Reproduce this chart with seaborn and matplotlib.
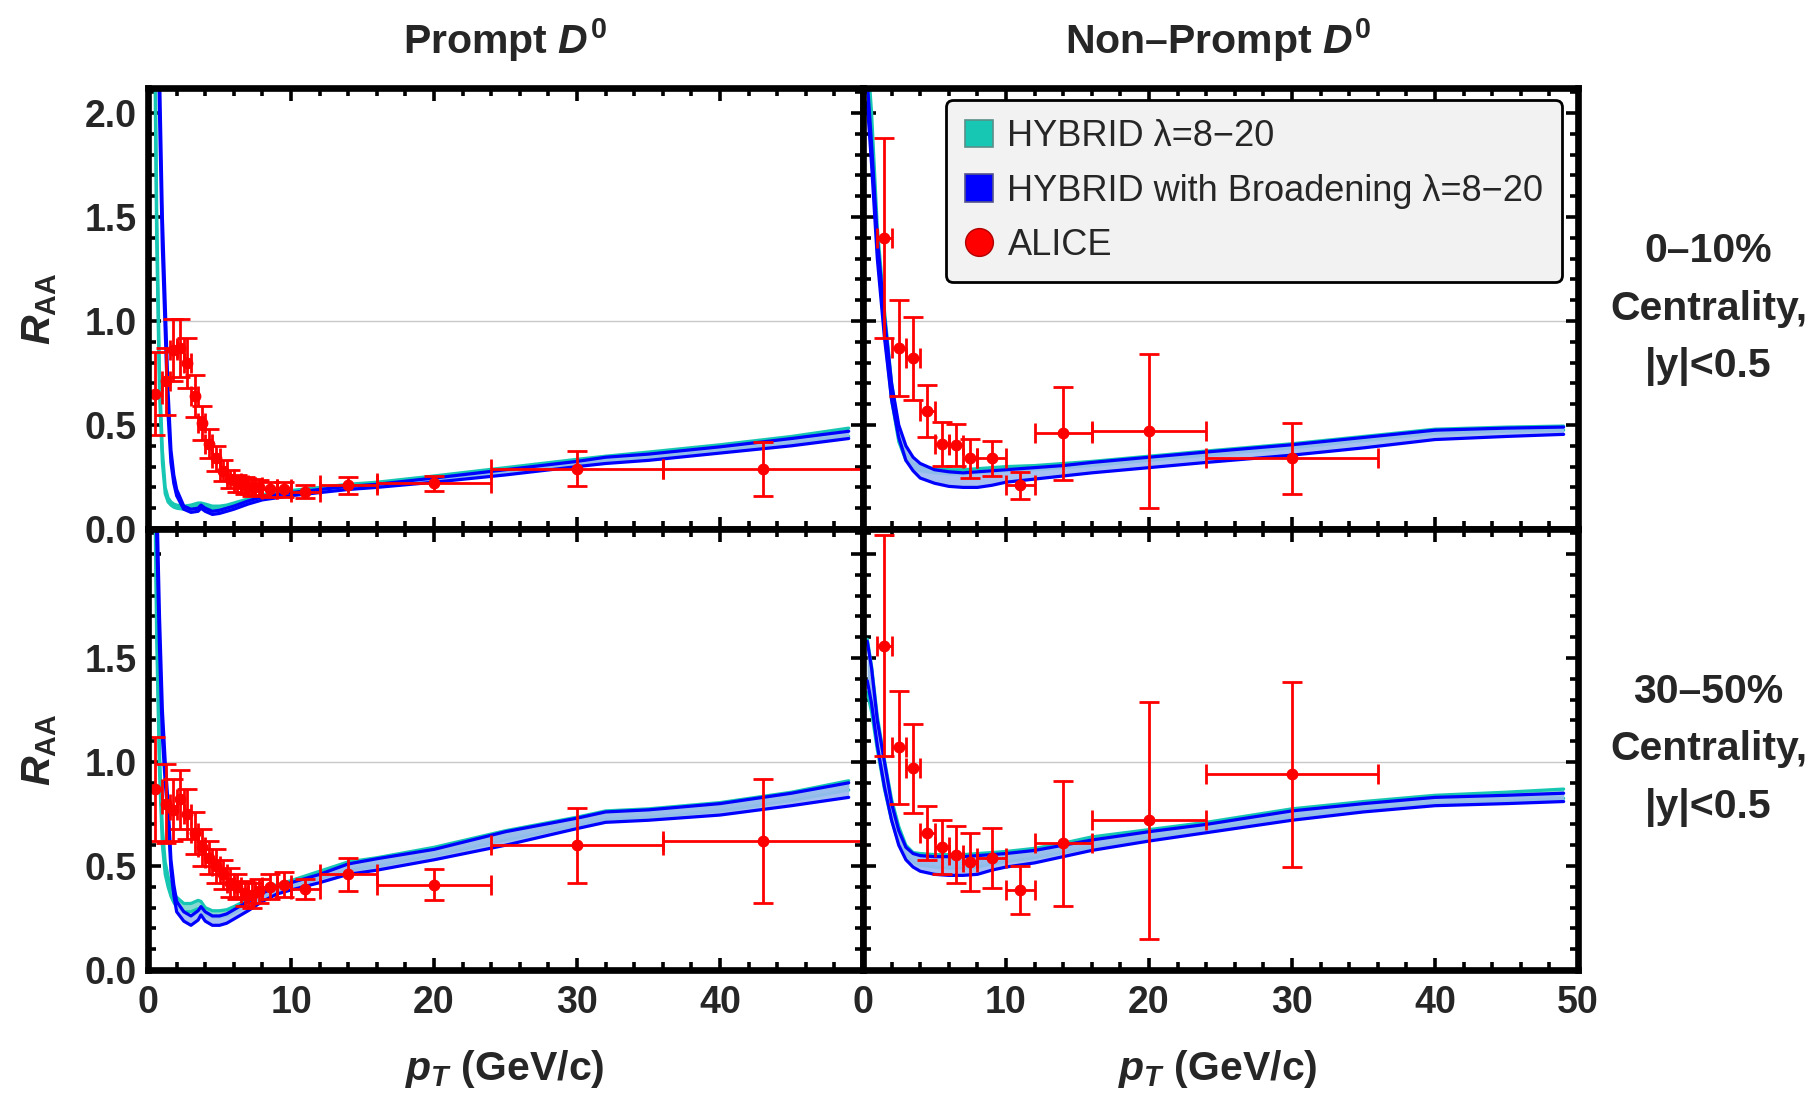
import numpy as np
import pandas as pd
import matplotlib
matplotlib.use("Agg")
import matplotlib.pyplot as plt
import seaborn as sns
from matplotlib.patches import Patch
from matplotlib.lines import Line2D
from matplotlib.ticker import MultipleLocator, FuncFormatter

# ---------------- theory bands: prompt D0 (left column) ----------------
pt_prompt = [0.5, 0.6, 0.8, 1.0, 1.2, 1.4, 1.6, 1.8, 2.0, 2.5, 3.0, 3.5, 3.7, 4.0, 4.5, 5.0,
             5.5, 6.0, 7.0, 8.0, 9.0, 10, 12, 14, 16, 20, 25, 30, 32, 35, 40, 45, 49]

tl_teal_hi = [2.3, 1.55, 0.75, 0.38, 0.20, 0.15, 0.13, 0.12, 0.115, 0.11, 0.115, 0.125, 0.125, 0.12, 0.11, 0.11,
              0.115, 0.125, 0.145, 0.165, 0.175, 0.185, 0.20, 0.215, 0.225, 0.255, 0.295, 0.335, 0.35, 0.37, 0.405, 0.445, 0.485]
tl_teal_lo = [2.1, 1.4, 0.65, 0.32, 0.17, 0.13, 0.115, 0.105, 0.10, 0.095, 0.10, 0.11, 0.11, 0.105, 0.095, 0.095,
              0.10, 0.11, 0.13, 0.15, 0.16, 0.17, 0.185, 0.20, 0.21, 0.235, 0.27, 0.31, 0.325, 0.34, 0.375, 0.41, 0.445]
tl_blue_hi = [4.2, 3.2, 2.2, 1.5, 1.08, 0.66, 0.38, 0.26, 0.19, 0.11, 0.095, 0.10, 0.115, 0.10, 0.085, 0.09,
              0.10, 0.11, 0.135, 0.155, 0.165, 0.175, 0.19, 0.205, 0.215, 0.245, 0.285, 0.325, 0.345, 0.36, 0.395, 0.435, 0.47]
tl_blue_lo = [4.0, 3.0, 2.0, 1.35, 0.95, 0.55, 0.32, 0.22, 0.16, 0.095, 0.08, 0.085, 0.10, 0.085, 0.07, 0.075,
              0.085, 0.095, 0.12, 0.14, 0.15, 0.16, 0.175, 0.19, 0.20, 0.225, 0.26, 0.30, 0.315, 0.33, 0.365, 0.40, 0.435]

bl_teal_hi = [2.3, 1.75, 1.05, 0.68, 0.52, 0.45, 0.40, 0.37, 0.35, 0.32, 0.32, 0.335, 0.33, 0.30, 0.285, 0.285,
              0.29, 0.305, 0.34, 0.38, 0.41, 0.43, 0.475, 0.52, 0.54, 0.59, 0.67, 0.735, 0.765, 0.775, 0.805, 0.855, 0.91]
bl_teal_lo = [2.15, 1.6, 0.95, 0.60, 0.46, 0.40, 0.355, 0.325, 0.305, 0.28, 0.28, 0.295, 0.29, 0.265, 0.255, 0.255,
              0.26, 0.275, 0.31, 0.35, 0.38, 0.40, 0.44, 0.48, 0.50, 0.55, 0.625, 0.695, 0.725, 0.735, 0.765, 0.815, 0.865]
bl_blue_hi = [2.8, 2.3, 1.7, 1.25, 1.0, 0.8, 0.53, 0.41, 0.33, 0.28, 0.26, 0.285, 0.305, 0.28, 0.26, 0.26,
              0.27, 0.29, 0.33, 0.37, 0.40, 0.42, 0.46, 0.51, 0.535, 0.58, 0.665, 0.73, 0.76, 0.77, 0.80, 0.85, 0.90]
bl_blue_lo = [2.6, 2.1, 1.55, 1.12, 0.9, 0.74, 0.48, 0.36, 0.28, 0.235, 0.215, 0.24, 0.265, 0.235, 0.215, 0.215,
              0.225, 0.245, 0.285, 0.33, 0.365, 0.385, 0.42, 0.46, 0.48, 0.53, 0.60, 0.68, 0.71, 0.72, 0.745, 0.79, 0.83]

# ---------------- theory bands: non-prompt D0 (right column) ----------------
pt_nonprompt = [0.3, 0.6, 1.0, 1.5, 2.0, 2.5, 3.0, 3.5, 4.0, 5.0, 6.0, 7.0, 8.0, 9.0, 10, 12, 14, 16,
                20, 24, 30, 35, 40, 45, 49]

tr_teal_hi = [2.3, 2.0, 1.45, 1.05, 0.70, 0.47, 0.36, 0.315, 0.30, 0.29, 0.285, 0.285, 0.29, 0.295, 0.30, 0.305,
              0.315, 0.325, 0.35, 0.375, 0.41, 0.445, 0.48, 0.49, 0.495]
tr_teal_lo = [2.2, 1.9, 1.35, 0.95, 0.62, 0.42, 0.33, 0.295, 0.28, 0.27, 0.265, 0.265, 0.27, 0.275, 0.28, 0.285,
              0.295, 0.305, 0.33, 0.355, 0.39, 0.425, 0.46, 0.47, 0.475]
tr_blue_hi = [2.15, 1.85, 1.4, 1.02, 0.70, 0.50, 0.40, 0.345, 0.315, 0.285, 0.275, 0.27, 0.275, 0.28, 0.285, 0.295,
              0.305, 0.32, 0.345, 0.37, 0.405, 0.44, 0.475, 0.485, 0.49]
tr_blue_lo = [2.05, 1.75, 1.3, 0.92, 0.62, 0.44, 0.33, 0.28, 0.245, 0.22, 0.205, 0.20, 0.20, 0.21, 0.225, 0.24,
              0.255, 0.27, 0.295, 0.32, 0.355, 0.39, 0.43, 0.445, 0.455]

br_teal_hi = [1.59, 1.46, 1.22, 1.01, 0.82, 0.69, 0.60, 0.565, 0.56, 0.555, 0.555, 0.555, 0.56, 0.565, 0.57, 0.585,
              0.61, 0.64, 0.675, 0.71, 0.775, 0.81, 0.84, 0.855, 0.87]
br_teal_lo = [1.335, 1.24, 1.06, 0.87, 0.72, 0.61, 0.55, 0.52, 0.505, 0.495, 0.49, 0.49, 0.495, 0.51, 0.52, 0.54,
              0.565, 0.59, 0.635, 0.675, 0.735, 0.77, 0.80, 0.81, 0.825]
br_blue_hi = [1.58, 1.45, 1.2, 1.0, 0.80, 0.67, 0.59, 0.56, 0.55, 0.545, 0.545, 0.545, 0.55, 0.555, 0.56, 0.575,
              0.60, 0.625, 0.665, 0.70, 0.765, 0.80, 0.83, 0.84, 0.85]
br_blue_lo = [1.39, 1.28, 1.08, 0.88, 0.72, 0.60, 0.53, 0.495, 0.475, 0.46, 0.455, 0.455, 0.46, 0.48, 0.495, 0.515,
              0.545, 0.575, 0.62, 0.66, 0.72, 0.76, 0.79, 0.80, 0.81]

# ---------------- ALICE data ----------------
alice_prompt_pt = [0.5, 1.25, 1.75, 2.25, 2.75, 3.25, 3.75, 4.25, 4.75, 5.25, 5.75, 6.25, 6.75, 7.25, 7.75,
                   8.5, 9.5, 11, 14, 20, 30, 43]
alice_prompt_xerr = [0.5, 0.25, 0.25, 0.25, 0.25, 0.25, 0.25, 0.25, 0.25, 0.25, 0.25, 0.25, 0.25, 0.25, 0.25,
                     0.5, 0.5, 1, 2, 4, 6, 7]
alice_prompt_010 = [0.65, 0.71, 0.86, 0.87, 0.80, 0.64, 0.51, 0.41, 0.34, 0.28, 0.24, 0.22, 0.21, 0.20, 0.20,
                    0.19, 0.19, 0.18, 0.21, 0.22, 0.29, 0.29]
alice_prompt_010_err = [0.20, 0.16, 0.15, 0.14, 0.12, 0.10, 0.08, 0.07, 0.06, 0.05, 0.045, 0.04, 0.04, 0.04, 0.035,
                        0.035, 0.035, 0.03, 0.04, 0.035, 0.085, 0.13]
alice_prompt_3050 = [0.87, 0.80, 0.77, 0.82, 0.75, 0.66, 0.59, 0.54, 0.50, 0.46, 0.42, 0.40, 0.37, 0.36, 0.38,
                     0.40, 0.41, 0.39, 0.46, 0.41, 0.60, 0.62]
alice_prompt_3050_err = [0.25, 0.19, 0.15, 0.14, 0.12, 0.10, 0.09, 0.08, 0.08, 0.07, 0.07, 0.06, 0.06, 0.06, 0.06,
                         0.06, 0.06, 0.05, 0.08, 0.075, 0.18, 0.30]

alice_np_pt = [1.5, 2.5, 3.5, 4.5, 5.5, 6.5, 7.5, 9, 11, 14, 20, 30]
alice_np_xerr = [0.5, 0.5, 0.5, 0.5, 0.5, 0.5, 0.5, 1, 1, 2, 4, 6]
alice_np_010 = [1.40, 0.87, 0.82, 0.565, 0.41, 0.405, 0.34, 0.34, 0.21, 0.46, 0.47, 0.34]
alice_np_010_err = [0.48, 0.23, 0.20, 0.125, 0.105, 0.10, 0.095, 0.085, 0.065, 0.225, 0.37, 0.17]
alice_np_3050 = [1.56, 1.07, 0.97, 0.66, 0.59, 0.555, 0.52, 0.54, 0.385, 0.61, 0.72, 0.94]
alice_np_3050_err = [0.53, 0.27, 0.215, 0.13, 0.13, 0.135, 0.14, 0.145, 0.115, 0.30, 0.57, 0.445]

col_titles = ["Prompt $D^0$", "Non–Prompt $D^0$"]
row_labels = ["0–10%\nCentrality,\n|y|<0.5", "30–50%\nCentrality,\n|y|<0.5"]
legend_labels = ["HYBRID λ=8−20", "HYBRID with Broadening λ=8−20", "ALICE"]

# ---------------- style ----------------
sns.set_theme(style="white")
plt.rcParams["font.family"] = ["Liberation Sans", "DejaVu Sans"]
plt.rcParams["mathtext.fontset"] = "custom"
plt.rcParams["mathtext.rm"] = "Liberation Sans:bold"
plt.rcParams["mathtext.bf"] = "Liberation Sans:bold"
plt.rcParams["mathtext.it"] = "Liberation Sans:italic:bold"

TEAL = "#17c6b3"
TEAL_FILL = "#86d9d0"
BLUE = "#0000ff"
BLUE_FILL = "#9dbbf0"

fig = plt.figure(figsize=(18.1, 10.93), dpi=100)
gs = fig.add_gridspec(2, 2, left=0.0818, right=0.8718, top=0.9195, bottom=0.1125,
                      wspace=0, hspace=0)


def draw_panel(ax, pt, teal_lo, teal_hi, blue_lo, blue_hi, d_pt, d_xerr, d_y, d_yerr):
    ax.axhline(1.0, color="#c8c8c8", lw=1.0, zorder=0)
    ax.fill_between(pt, teal_lo, teal_hi, color=TEAL_FILL, lw=0, zorder=2)
    for arr in (teal_lo, teal_hi):
        sns.lineplot(x=pt, y=arr, ax=ax, color=TEAL, lw=2.3, estimator=None, sort=False, zorder=3)
    ax.fill_between(pt, blue_lo, blue_hi, color=BLUE_FILL, alpha=0.9, lw=0, zorder=4)
    for arr in (blue_lo, blue_hi):
        sns.lineplot(x=pt, y=arr, ax=ax, color=BLUE, lw=2.3, estimator=None, sort=False, zorder=5)
    ax.errorbar(d_pt, d_y, xerr=d_xerr, yerr=d_yerr, fmt="o", color="#ff0000", ms=7.5,
                elinewidth=2.0, capsize=7.5, capthick=2.0, zorder=6)


panels = [
    (0, 0, pt_prompt, tl_teal_lo, tl_teal_hi, tl_blue_lo, tl_blue_hi,
     alice_prompt_pt, alice_prompt_xerr, alice_prompt_010, alice_prompt_010_err),
    (0, 1, pt_nonprompt, tr_teal_lo, tr_teal_hi, tr_blue_lo, tr_blue_hi,
     alice_np_pt, alice_np_xerr, alice_np_010, alice_np_010_err),
    (1, 0, pt_prompt, bl_teal_lo, bl_teal_hi, bl_blue_lo, bl_blue_hi,
     alice_prompt_pt, alice_prompt_xerr, alice_prompt_3050, alice_prompt_3050_err),
    (1, 1, pt_nonprompt, br_teal_lo, br_teal_hi, br_blue_lo, br_blue_hi,
     alice_np_pt, alice_np_xerr, alice_np_3050, alice_np_3050_err),
]

axes = {}
for r, c, pt, tlo, thi, blo, bhi, dpt, dxe, dy, dye in panels:
    ax = fig.add_subplot(gs[r, c])
    axes[(r, c)] = ax
    draw_panel(ax, pt, tlo, thi, blo, bhi, dpt, dxe, dy, dye)
    ax.set_xlim(0, 50)
    ax.set_ylim(0, 2.12)
    ax.set_xlabel("")
    ax.set_ylabel("")
    ax.xaxis.set_major_locator(MultipleLocator(10))
    ax.xaxis.set_minor_locator(MultipleLocator(2))
    ax.yaxis.set_major_locator(MultipleLocator(0.5))
    ax.yaxis.set_minor_locator(MultipleLocator(0.1))
    ax.tick_params(which="both", direction="in", top=True, right=True, bottom=True, left=True,
                   width=2.6, color="black", labelsize=27)
    ax.tick_params(axis="x", pad=11)
    ax.tick_params(axis="y", pad=8)
    ax.tick_params(which="major", length=9)
    ax.tick_params(which="minor", length=6)
    for sp in ax.spines.values():
        sp.set_linewidth(4.8)
        sp.set_color("black")
        sp.set_zorder(10)
    ax.set_facecolor("white")

    ymax_label = 2.05 if r == 0 else 1.9
    xmax_label = 45 if c == 0 else 55
    ax.yaxis.set_major_formatter(FuncFormatter(lambda v, _, m=ymax_label: f"{v:.1f}" if v < m else ""))
    ax.xaxis.set_major_formatter(FuncFormatter(lambda v, _, m=xmax_label: f"{v:.0f}" if v < m else ""))
    ax.tick_params(labelleft=(c == 0), labelbottom=(r == 1))
    for lab in ax.get_xticklabels() + ax.get_yticklabels():
        lab.set_fontweight("bold")

# legend
handles = [Patch(facecolor=TEAL, edgecolor="#5a8f8a", lw=1.2),
           Patch(facecolor=BLUE, edgecolor="#55558f", lw=1.2),
           Line2D([], [], marker="o", color="none", markerfacecolor="#ff0000",
                  markeredgecolor="#b00000", markersize=20, lw=0)]
leg = axes[(0, 1)].legend(handles, legend_labels, loc="upper right", bbox_to_anchor=(0.978, 0.973),
                          borderaxespad=0, fontsize=26, frameon=True, fancybox=True,
                          facecolor="#f2f2f2", edgecolor="black", framealpha=1,
                          handlelength=0.78, handleheight=0.78, handletextpad=0.4,
                          labelspacing=0.55, borderpad=0.52)
leg.get_frame().set_linewidth(2.0)
leg.set_zorder(20)

# texts
for c, title in enumerate(col_titles):
    xc = 0.2787 if c == 0 else 0.673
    fig.text(xc, 0.963, title, ha="center", va="center", fontsize=29.5, fontweight="bold")
    fig.text(xc, 0.022, "$p_T$ (GeV/c)", ha="center", va="center", fontsize=29.5, fontweight="bold")

for r, lab in enumerate(row_labels):
    yc = 0.717 if r == 0 else 0.314
    fig.text(0.022, yc, r"$R_{\mathrm{AA}}$", ha="center", va="center", rotation=90,
             fontsize=29.5, fontweight="bold")
    fig.text(0.944, yc, lab, ha="center", va="center", fontsize=29.5, fontweight="bold",
             linespacing=1.65)

fig.savefig("out.png", dpi=100, facecolor="white")
